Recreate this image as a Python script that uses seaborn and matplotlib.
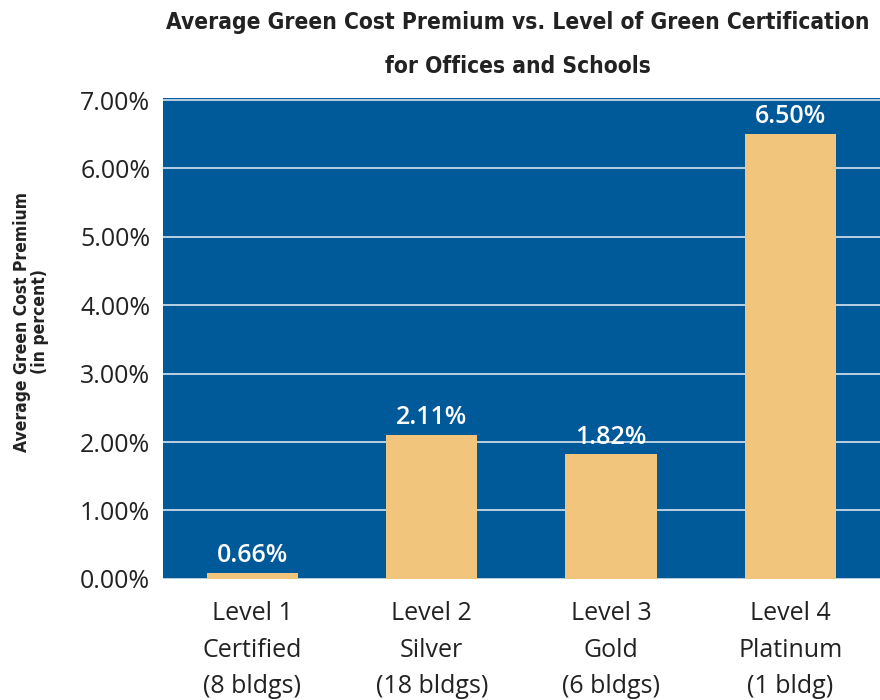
import matplotlib
matplotlib.use("Agg")
import matplotlib.pyplot as plt
import seaborn as sns
import pandas as pd

levels = ["Level 1\nCertified\n(8 bldgs)", "Level 2\nSilver\n(18 bldgs)",
          "Level 3\nGold\n(6 bldgs)", "Level 4\nPlatinum\n(1 bldg)"]
bar_height = [0.09, 2.11, 1.82, 6.50]
bar_labels = ["0.66%", "2.11%", "1.82%", "6.50%"]
y_ticks = [0, 1, 2, 3, 4, 5, 6, 7]

df = pd.DataFrame({"level": levels, "premium": bar_height})

sns.set_style("white")
plt.rcParams["font.family"] = ["Open Sans", "DejaVu Sans"]

fig = plt.figure(figsize=(8.8, 7), dpi=100)
ax = fig.add_axes([0.185, 0.173, 0.815, 0.687])
ax.set_facecolor("#005A9A")

sns.barplot(data=df, x="level", y="premium", color="#F2C57C", width=0.51,
            saturation=1, linewidth=0, ax=ax, zorder=3)

ax.set_ylim(0, 7.03)
ax.set_xlim(-0.5, 3.5)
ax.set_yticks(y_ticks)
ax.set_yticklabels([f"{v:.2f}%" for v in y_ticks], fontsize=18, color="#222222")
ax.tick_params(axis="x", labelsize=18, colors="#222222", pad=16, length=0)
ax.tick_params(axis="y", length=0, pad=9)
ax.yaxis.grid(True, color="#d8e3ee", linewidth=1.2, zorder=1)
ax.set_axisbelow(True)
for s in ax.spines.values():
    s.set_visible(False)
ax.set_xlabel("")
ax.set_ylabel("Average Green Cost Premium\n(in percent)", fontsize=12.5,
              fontweight="bold", fontstretch="condensed", family="DejaVu Sans",
              linespacing=1.05, color="#222222")
ax.yaxis.set_label_coords(-0.158, 0.535)
for lbl in ax.get_xticklabels():
    lbl.set_linespacing(1.6)

for i, (h, t) in enumerate(zip(bar_height, bar_labels)):
    ax.text(i, h + 0.07, t, ha="center", va="bottom", color="white",
            fontsize=18, fontweight="semibold", zorder=4)

fig.text(0.588, 0.985, "Average Green Cost Premium vs. Level of Green Certification\nfor Offices and Schools",
         ha="center", va="top", fontsize=16.3, fontweight="bold", color="#222222",
         family="DejaVu Sans", fontstretch="condensed", linespacing=2.2)

fig.savefig("out.png", dpi=100)
